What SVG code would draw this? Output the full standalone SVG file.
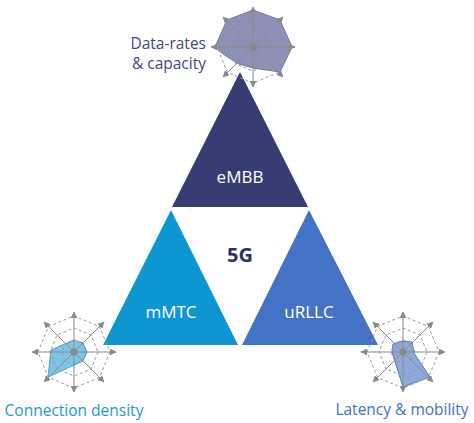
<svg xmlns="http://www.w3.org/2000/svg" xmlns:xlink="http://www.w3.org/1999/xlink" width="474" height="423" viewBox="0 0 474 423">
<style>
  .lbl{font-family:"Open Sans","Liberation Sans",sans-serif;}
  .tri-txt{font-family:"Open Sans","Liberation Sans",sans-serif;font-size:17px;fill:#ffffff;text-anchor:middle;}
  .ring{fill:none;stroke:#9a9a9a;stroke-width:1;stroke-dasharray:3 2.5;}
  .axis{stroke:#8a8a8a;stroke-width:1;marker-end:url(#ah);}
</style>
<defs>
  <marker id="ah" viewBox="0 0 10 10" refX="9" refY="5" markerWidth="7" markerHeight="7" markerUnits="userSpaceOnUse" orient="auto">
    <path d="M0,0 L10,5 L0,10 z" fill="#8a8a8a"/>
  </marker>
  <g id="grid">
    <polygon class="ring" points="12,0 8.5,8.5 0,12 -8.5,8.5 -12,0 -8.5,-8.5 0,-12 8.5,-8.5"/>
    <polygon class="ring" points="24,0 17,17 0,24 -17,17 -24,0 -17,-17 0,-24 17,-17"/>
    <polygon class="ring" points="36,0 25.5,25.5 0,36 -25.5,25.5 -36,0 -25.5,-25.5 0,-36 25.5,-25.5"/>
    <line class="axis" x1="0" y1="0" x2="42" y2="0"/>
    <line class="axis" x1="0" y1="0" x2="30" y2="30"/>
    <line class="axis" x1="0" y1="0" x2="0" y2="40"/>
    <line class="axis" x1="0" y1="0" x2="-30" y2="30"/>
    <line class="axis" x1="0" y1="0" x2="-42" y2="0"/>
    <line class="axis" x1="0" y1="0" x2="-30" y2="-30"/>
    <line class="axis" x1="0" y1="0" x2="0" y2="-40"/>
    <line class="axis" x1="0" y1="0" x2="30" y2="-30"/>
    <circle r="3.5" fill="#888888"/>
  </g>
</defs>
<rect width="474" height="423" fill="#ffffff"/>

<g id="connectors"/>

<g id="embb">
  <polygon points="240,72 172,207 308,207" fill="#373c72"/>
  <text class="tri-txt" x="240" y="183">eMBB</text>
</g>
<g id="mmtc">
  <polygon points="171,210 103,345 238,345" fill="#0e96d2"/>
  <text class="tri-txt" x="171" y="318">mMTC</text>
</g>
<g id="urllc">
  <polygon points="309,210 242,345 378,345" fill="#4472c4"/>
  <text class="tri-txt" x="309" y="318">uRLLC</text>
</g>
<g id="center-5g">
  <text x="240" y="262" font-family="'Open Sans','Liberation Sans',sans-serif" font-size="20" font-weight="bold" fill="#2e3264" text-anchor="middle">5G</text>
</g>

<g id="radar-embb" transform="translate(253,47)">
  <path d="M0,-37 L27,-27 L39,0 L27,25 L0,21 L-14,17 Q-30,8 -38,0 L-26,-27 Z" fill="#8c8fb7" stroke="#72759f" stroke-width="1"/>
  <use xlink:href="#grid"/>
</g>
<g id="label-embb">
  <text class="lbl" x="206" y="49" font-size="15.5" fill="#454a7c" text-anchor="end">Data-rates</text>
  <text class="lbl" x="206" y="69" font-size="15.5" fill="#454a7c" text-anchor="end">&amp; capacity</text>
</g>

<g id="radar-mmtc" transform="translate(74,352)">
  <polygon points="-23,-2 0,-12 9,-9 13,0 9,9 -26,25" fill="#7cc4e6" stroke="#4d9fc8" stroke-width="1"/>
  <use xlink:href="#grid"/>
</g>
<g id="label-mmtc">
  <text class="lbl" x="74" y="416" font-size="15.5" fill="#1d9ad6" text-anchor="middle">Connection density</text>
</g>

<g id="radar-urllc" transform="translate(403,352)">
  <polygon points="-11,0 -10,-8 0,-11 9,-10 11,1 27,25 0,35" fill="#8ea8db" stroke="#5a79b9" stroke-width="1"/>
  <use xlink:href="#grid"/>
</g>
<g id="label-urllc">
  <text class="lbl" x="402" y="415" font-size="15.5" fill="#4472c4" text-anchor="middle">Latency &amp; mobility</text>
</g>
</svg>
